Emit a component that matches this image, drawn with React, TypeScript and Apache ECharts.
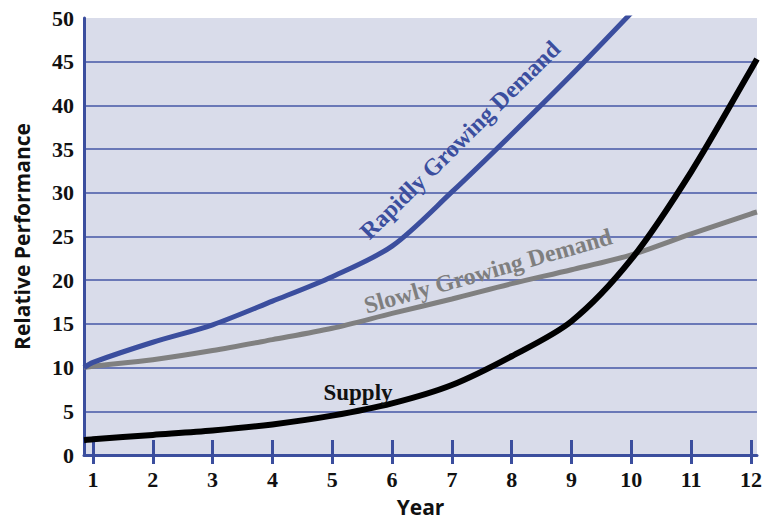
import React, { useEffect, useRef } from "react";
import * as echarts from "echarts";

// ---- data ----
const years = [0.85, 1, 2, 3, 4, 5, 6, 7, 8, 9, 10, 11, 12, 12.1];
const rapidDemand = [10, 10.6, 12.9, 14.9, 17.6, 20.4, 23.9, 30.1, 36.7, 43.5, 50.6, null, null, null];
const slowDemand = [10, 10.15, 10.9, 11.95, 13.2, 14.5, 16.2, 17.85, 19.6, 21.2, 22.9, 25.3, 27.6, 27.8];
const supply = [1.7, 1.8, 2.3, 2.8, 3.5, 4.5, 5.9, 8.0, 11.3, 15.3, 22.4, 32.4, 44.1, 45.3];
const yearTicks = [1, 2, 3, 4, 5, 6, 7, 8, 9, 10, 11, 12];
const xMin = 0.85;
const xMax = 12.1;
const yMin = 0;
const yMax = 50;
const yStep = 5;

const BLUE = "#3b4e9e";
const GRID_BLUE = "#4557a6";
const GRAY = "#808080";
const BG = "#d9dcea";
const SERIF = '"Liberation Serif", "Times New Roman", serif';
const SANS = '"Open Sans", "Noto Sans", sans-serif';

const pairs = (vals: (number | null)[]) => years.map((y, i) => [y, vals[i]]);

export default function App() {
  const ref = useRef<HTMLDivElement>(null);
  useEffect(() => {
    if (!ref.current) return;
    const chart = echarts.init(ref.current, undefined, { renderer: "svg" });
    const tickLabel = { fontFamily: SERIF, fontWeight: "bold" as const, fontSize: 22, color: "#111" };
    const lineCommon = { type: "line" as const, smooth: 0.3, showSymbol: false };
    chart.setOption({
      animation: false,
      grid: { left: 84, right: 0, top: 18, bottom: 58, show: true, backgroundColor: BG, borderWidth: 0 },
      xAxis: [
        {
          type: "value",
          min: xMin,
          max: xMax,
          axisLine: { show: true, onZero: false, lineStyle: { color: BLUE, width: 3 } },
          axisTick: { show: true, inside: true, length: 15, customValues: yearTicks, lineStyle: { color: BLUE, width: 3 } },
          axisLabel: { customValues: yearTicks, margin: 13, ...tickLabel },
          splitLine: { show: false },
          name: "Year",
          nameLocation: "middle",
          nameGap: 41,
          nameTextStyle: { fontFamily: SANS, fontWeight: "bold", fontSize: 21, color: "#111" },
        },
        {
          type: "value",
          min: xMin,
          max: xMax,
          position: "bottom",
          axisLine: { show: false },
          axisTick: { show: true, inside: false, length: 9, customValues: yearTicks, lineStyle: { color: BLUE, width: 3 } },
          axisLabel: { show: false },
          splitLine: { show: false },
        },
      ],
      yAxis: {
        type: "value",
        min: yMin,
        max: yMax,
        interval: yStep,
        axisLine: { show: true, onZero: false, lineStyle: { color: BLUE, width: 3 } },
        axisTick: { show: false },
        axisLabel: { margin: 10, ...tickLabel },
        splitLine: { show: true, showMaxLine: false, showMinLine: false, lineStyle: { color: GRID_BLUE, width: 1.5 } },
        name: "Relative Performance",
        nameLocation: "middle",
        nameGap: 52,
        nameTextStyle: { fontFamily: SANS, fontWeight: "bold", fontSize: 21, color: "#111" },
      },
      series: [
        { ...lineCommon, name: "Slowly Growing Demand", data: pairs(slowDemand), lineStyle: { color: GRAY, width: 5 }, z: 3 },
        { ...lineCommon, name: "Rapidly Growing Demand", data: pairs(rapidDemand), lineStyle: { color: BLUE, width: 5 }, z: 4 },
        { ...lineCommon, name: "Supply", data: pairs(supply), lineStyle: { color: "#000", width: 6 }, z: 5 },
      ],
      graphic: [
        {
          type: "text",
          x: 460,
          y: 140,
          rotation: 0.78,
          z: 10,
          style: { text: "Rapidly Growing Demand", fill: BLUE, font: `bold 24px ${SERIF}`, align: "center", verticalAlign: "middle" },
        },
        {
          type: "text",
          x: 488,
          y: 271,
          rotation: 0.277,
          z: 10,
          style: { text: "Slowly Growing Demand", fill: "#7f7f7f", font: `bold 24px ${SERIF}`, align: "center", verticalAlign: "middle" },
        },
        {
          type: "text",
          x: 358,
          y: 392,
          z: 10,
          style: { text: "Supply", fill: "#111", font: `bold 23px ${SERIF}`, align: "center", verticalAlign: "middle" },
        },
      ],
    });
    return () => chart.dispose();
  }, []);
  return <div ref={ref} style={{ position: "absolute", left: 0, top: 0, width: 765, height: 522 }} />;
}
